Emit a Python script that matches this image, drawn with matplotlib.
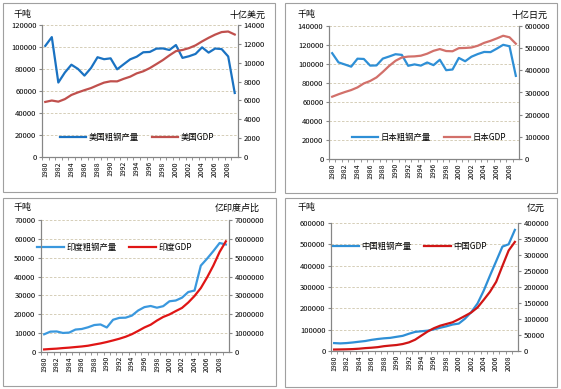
import matplotlib
matplotlib.use('Agg')
import matplotlib.pyplot as plt
from matplotlib.patches import Rectangle
from matplotlib.ticker import FuncFormatter
import numpy as np

plt.rcParams['font.family'] = ['Noto Sans CJK SC', 'DejaVu Sans']

years = list(range(1980, 2010))

us_steel = [101000, 109000, 67700, 76800, 83900, 80100, 74000, 80900, 90700, 88900,
            89700, 79700, 84300, 88800, 91200, 95200, 95500, 98500, 98700, 97300,
            101800, 90100, 91600, 93700, 99700, 94900, 98600, 98100, 91400, 58200]
us_gdp = [5840, 5990, 5870, 6140, 6580, 6850, 7090, 7310, 7610, 7890,
          8030, 8020, 8290, 8520, 8870, 9090, 9430, 9850, 10280, 10780,
          11230, 11350, 11550, 11840, 12260, 12640, 12980, 13250, 13310, 12990]

jp_steel = [111400, 101700, 99500, 97200, 105600, 105300, 98300, 98500, 105700, 107900,
            110300, 109600, 98100, 99600, 98300, 101600, 98800, 104500, 93500, 94200,
            106400, 102900, 107700, 110500, 112700, 112500, 116200, 120200, 118700, 87500]
jp_gdp = [281000, 292000, 302000, 311000, 323000, 341000, 352000, 368000, 393000, 420000,
          443000, 458000, 462000, 463000, 466000, 475000, 488000, 496000, 487000, 486000,
          500000, 501000, 503000, 511000, 524000, 533000, 544000, 556000, 549000, 520000]

in_steel = [9400, 10800, 10900, 10100, 10300, 11900, 12200, 13100, 14300, 14600,
            13000, 17100, 18100, 18200, 19300, 22000, 23800, 24400, 23500, 24300,
            26900, 27300, 28800, 31800, 32600, 45800, 49500, 53500, 57800, 57000]
in_gdp = [136000, 160000, 178000, 208000, 232000, 263000, 293000, 333000, 396000, 456000,
          530000, 614000, 703000, 809000, 944000, 1118000, 1301000, 1447000, 1668000, 1858000,
          1992000, 2169000, 2338000, 2625000, 2971000, 3390000, 3953000, 4582000, 5303000, 5868000]

cn_steel = [37100, 35600, 37200, 40000, 43500, 46800, 52200, 56300, 59400, 61600,
            66400, 71000, 80900, 89500, 92600, 95400, 101200, 108900, 115600, 124000,
            128500, 151600, 182200, 222300, 282900, 353200, 421000, 489300, 500300, 567800]
cn_gdp = [4546, 4892, 5323, 5963, 7208, 9016, 10275, 12059, 15043, 16992,
          18668, 21781, 26923, 35334, 48198, 60794, 71177, 78973, 84402, 89677,
          99215, 109655, 120333, 135823, 159878, 184937, 216314, 265810, 314045, 340903]

W, H = 561, 389
fig = plt.figure(figsize=(W / 100, H / 100), dpi=100)
plain = FuncFormatter(lambda v, p: '%d' % v)


def fx(px):
    return px / W


def fy(py):
    return 1 - py / H


def panel(box, ax_px, steel, gdp, names, units, colors, lmax, lstep, rmax, rstep, leg_pos, unit_pos):
    x0, y0, x1, y1 = box
    fig.patches.append(Rectangle((fx(x0), fy(y1)), fx(x1 - x0), (y1 - y0) / H,
                                 transform=fig.transFigure, fill=False,
                                 edgecolor='#a0a0a0', lw=0.8))
    l, t, r, b = ax_px
    ax = fig.add_axes([fx(l), fy(b), fx(r - l), (b - t) / H])
    ax2 = ax.twinx()
    idx = np.arange(len(years))
    h1, = ax.plot(idx, steel, color=colors[0], lw=1.6, label=names[0])
    h2, = ax2.plot(idx, gdp, color=colors[1], lw=1.6, label=names[1])
    ax.set_xlim(-0.5, len(years) - 0.5)
    ax.set_ylim(0, lmax)
    ax2.set_ylim(0, rmax)
    ax.set_yticks(np.arange(0, lmax + 1, lstep))
    ax2.set_yticks(np.arange(0, rmax + 1, rstep))
    ax.yaxis.set_major_formatter(plain)
    ax2.yaxis.set_major_formatter(plain)
    ax.set_xticks(idx[::2])
    ax.set_xticklabels([str(y) for y in years[::2]], rotation=90, fontsize=5)
    ax.set_xticks(idx - 0.5, minor=True)
    ax.yaxis.grid(True, linestyle=(0, (3, 2)), color='#cfc6ad', lw=0.6)
    for a in (ax, ax2):
        a.spines['top'].set_visible(False)
        for s in ('left', 'right', 'bottom'):
            a.spines[s].set_color('#868686')
            a.spines[s].set_linewidth(0.8)
        a.tick_params(axis='y', labelsize=5.5, length=2, color='#868686', pad=2)
    ax.tick_params(axis='x', which='major', length=0, pad=3)
    ax.tick_params(axis='x', which='minor', length=2, color='#868686')
    ax.legend(handles=[h1, h2], loc='center', bbox_to_anchor=leg_pos, ncol=2,
              frameon=False, fontsize=6, handlelength=3.2, columnspacing=1.5,
              handletextpad=0.3)
    fig.text(fx(unit_pos[0]), fy(unit_pos[2]), units[0], fontsize=6.5, ha='center', va='center')
    fig.text(fx(unit_pos[1]), fy(unit_pos[2]), units[1], fontsize=6.5, ha='center', va='center')


panel((3, 3, 275, 192), (42, 25, 238, 157), us_steel, us_gdp,
      ['美国粗钢产量', '美国GDP'], ['千吨', '十亿美元'], ['#1a72c2', '#c0504d'],
      120000, 20000, 14000, 2000, (0.485, 0.15), (22, 247, 15))
panel((285, 3, 557, 193), (329, 26, 519, 159), jp_steel, jp_gdp,
      ['日本粗钢产量', '日本GDP'], ['千吨', '十亿日元'], ['#2e8fd6', '#d2706a'],
      140000, 20000, 600000, 100000, (0.526, 0.165), (307, 530, 15))
panel((3, 198, 276, 386), (41, 220, 229, 352), in_steel, in_gdp,
      ['印度粗钢产量', '印度GDP'], ['千吨', '亿印度卢比'], ['#3a98de', '#e01515'],
      70000, 10000, 7000000, 1000000, (0.39, 0.795), (23, 237, 208))
panel((285, 198, 557, 387), (331, 223, 518, 351), cn_steel, cn_gdp,
      ['中国粗钢产量', '中国GDP'], ['千吨', '亿元'], ['#2e8fd6', '#d01515'],
      600000, 100000, 400000, 50000, (0.42, 0.82), (306, 536, 208))

fig.savefig('out.png', dpi=100)
